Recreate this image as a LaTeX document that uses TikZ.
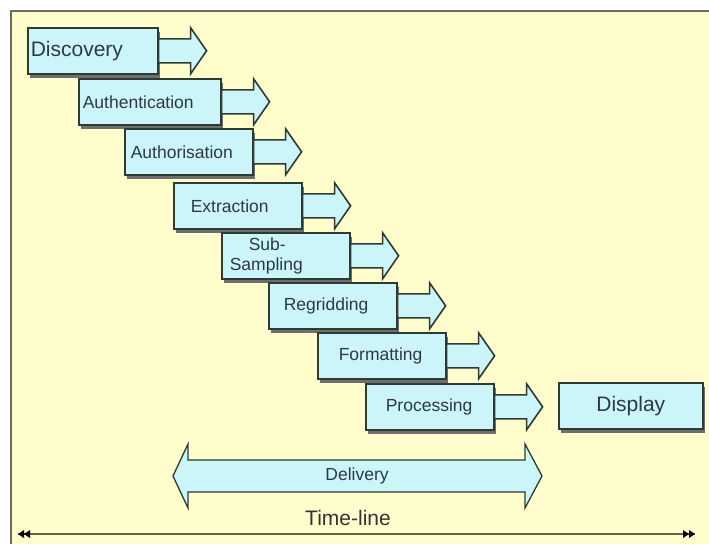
\documentclass[tikz,border=0pt]{standalone}
\usepackage{fontspec}
\setmainfont{Liberation Sans}
\usepackage{xcolor}
\usetikzlibrary{arrows.meta,positioning,shadows}
\definecolor{chart-cream}{HTML}{FFFDCB}
\definecolor{chart-frame}{HTML}{6B6B60}
\definecolor{stage-cyan}{HTML}{CCF5FA}
\definecolor{stage-edge}{HTML}{2F3A32}
\definecolor{stage-shadow}{HTML}{6E6E6E}
\definecolor{label-slate}{HTML}{2B3A42}
\definecolor{timeline-olive}{HTML}{66624A}
\newcommand{\stagefont}{\fontsize{17.5}{20}\selectfont}
\newcommand{\bigstagefont}{\fontsize{21}{24}\selectfont}

\begin{document}
\begin{tikzpicture}[x=1pt, y=-1pt]
  \tikzstyle{stagebox}=[draw=stage-edge, fill=stage-cyan, line width=1.6pt,
    minimum height=46pt, inner xsep=3pt, align=left, anchor=north west,
    text=label-slate, font=\stagefont,
    drop shadow={shadow xshift=2pt, shadow yshift=-4pt, fill=stage-shadow, opacity=1}]
  \tikzstyle{stagearrow}=[draw=stage-edge, fill=stage-cyan, line width=1.6pt, line join=miter]
  \tikzstyle{tlhead}=[fill=black, draw=none]

  \useasboundingbox (0,0) rectangle (709,544);

  %% Backdrop
  \fill[chart-cream] (11,11) rectangle (709,544);
  \draw[chart-frame, line width=2pt] (11,544) -- (11,11) -- (709,11);

  %% Stages
  \node[stagebox, text width=124pt, font=\bigstagefont] (disc)  at (27,27)   {Discovery};
  \node[stagebox, text width=136pt]                     (authn) at (78,78)   {\hspace*{1pt}Authentication};
  \node[stagebox, text width=122pt]                     (autho) at (124,128) {\hspace*{3pt}Authorisation};
  \node[stagebox, text width=122pt]                     (extr)  at (173,182) {\hspace*{14pt}Extraction};
  \node[stagebox, text width=122pt]                     (subs)  at (221,232) {\hspace*{24pt}Sub-\\\hspace*{5pt}Sampling};
  \node[stagebox, text width=122pt]                     (regr)  at (268,282) {\hspace*{12pt}Regridding};
  \node[stagebox, text width=122pt]                     (form)  at (317,332) {\hspace*{18pt}Formatting};
  \node[stagebox, text width=122pt]                     (proc)  at (365,383) {\hspace*{17pt}Processing};
  \node[stagebox, text width=138pt, align=center, font=\bigstagefont] (disp) at (558,382) {Display};

  %% Stage arrows
  \foreach \stage in {disc,authn,autho,extr,subs,regr,form,proc}
    \filldraw[stagearrow, shift={(\stage.east)}]
      (0,-12) -- (32,-12) -- (32,-23) -- (48,0) -- (32,23) -- (32,12) -- (0,12) -- cycle;

  %% Delivery
  \coordinate (delivmid) at (357,476);
  \filldraw[stagearrow, line width=1.3pt, shift={(delivmid)}]
    (-169,-16) -- (168,-16) -- (168,-32) -- (185,0) -- (168,32) -- (168,16)
    -- (-169,16) -- (-169,32) -- (-184,0) -- (-169,-32) -- cycle;
  \node[text=label-slate, font=\stagefont] (deliv) at (delivmid) {Delivery};

  %% Time-line
  \coordinate (tlstart) at (18,534);
  \coordinate (tlend)   at (695,534);
  \draw[line width=2.6pt, timeline-olive] (tlstart) -- (tlend);
  \foreach \tip/\dir in {tlstart/1,tlend/-1}
    \fill[tlhead, shift={(\tip)}, xscale=\dir]
      (0,0) -- (6,-4) -- (6,0) -- (12,-4) -- (12,4) -- (6,0) -- (6,4) -- cycle;
  \node[text=black!80, font=\bigstagefont] (tllabel) at (348,518) {Time-line};
\end{tikzpicture}
\end{document}
